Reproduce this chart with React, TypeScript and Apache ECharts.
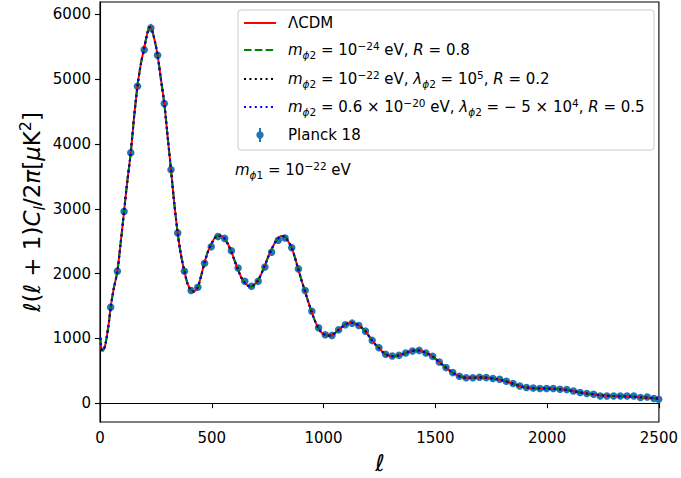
import React, { useEffect, useRef } from "react";
import * as echarts from "echarts";

// Theory curve multipoles and D_l values (muK^2)
const theoryL = [
  2, 4, 7, 10, 14, 20, 26, 32, 40, 47.7, 60, 77.6, 92, 107.6, 122, 137.6, 152, 167.6, 182, 197.6,
  212, 222, 232, 245, 257.6, 272, 287.6, 302, 317.6, 332, 347.6, 362, 377.6, 392, 407.6, 420, 437.6,
  452, 467.6, 482, 497.6, 512, 527.6, 540, 557.6, 572, 587.6, 602, 617.6, 632, 647.6, 662, 677.6,
  692, 707.6, 722, 737.6, 752, 767.6, 782, 797.6, 812, 827.6, 842, 857.6, 872, 887.6, 902, 917.6,
  932, 947.6, 962, 977.6, 992, 1007.6, 1022, 1037.6, 1052, 1067.6, 1082, 1097.6, 1112, 1127.6, 1142,
  1157.6, 1172, 1187.6, 1202, 1217.6, 1232, 1247.6, 1262, 1277.6, 1292, 1307.6, 1322, 1337.6, 1352,
  1367.6, 1382, 1397.6, 1412, 1427.6, 1442, 1457.6, 1472, 1487.6, 1502, 1517.6, 1532, 1547.6, 1562,
  1577.6, 1592, 1607.6, 1622, 1637.6, 1652, 1667.6, 1682, 1697.6, 1712, 1727.6, 1742, 1757.6, 1772,
  1787.6, 1802, 1817.6, 1832, 1847.6, 1862, 1877.6, 1892, 1907.6, 1922, 1937.6, 1967.6, 1997.6,
  2027.6, 2057.6, 2087.6, 2117.6, 2147.6, 2177.6, 2207.6, 2237.6, 2267.6, 2297.6, 2327.6, 2357.6,
  2387.6, 2417.6, 2447.6, 2477.6, 2500,
];
const lcdmD = [
  1010, 900, 830, 812, 815, 855, 940, 1060, 1250, 1477, 1740, 2035, 2460, 2958, 3420, 3865, 4400, 4891, 5220, 5480,
  5710, 5800, 5760, 5590, 5368, 5010, 4625, 4130, 3600, 3090, 2625, 2290, 2035, 1840, 1740, 1725, 1795,
  1960, 2170, 2330, 2450, 2545, 2585, 2585, 2540, 2455, 2340, 2200, 2060, 1940, 1860, 1810, 1800,
  1835, 1900, 2000, 2125, 2255, 2375, 2475, 2545, 2580, 2565, 2495, 2400, 2245, 2060, 1890, 1720,
  1560, 1400, 1265, 1155, 1085, 1052, 1042, 1048, 1085, 1132, 1175, 1212, 1235, 1242, 1228,
  1200, 1160, 1110, 1040, 965, 905, 853, 798, 755, 733, 726, 728, 738, 755,
  775, 793, 807, 815, 814, 800, 775, 752, 720, 680, 635, 592, 548, 508,
  470, 440, 415, 400, 393, 392, 393, 396, 398, 398, 394, 388, 380, 372,
  362, 350, 335, 318, 300, 282, 266, 252, 242, 236, 232, 228, 226,
  222, 214, 202, 186, 166, 150, 136, 122, 114, 110, 107, 104,
  100, 92, 85, 76, 70,
];
// The three two-field models overlap the LCDM curve to within a line width
const model24D = lcdmD;
const model22D = lcdmD;
const model20D = lcdmD;

// Planck 2018 binned TT points
const planckL = [
  47.7, 77.6, 107.6, 137.6, 167.6, 197.6, 227.6, 257.6, 287.6, 317.6, 347.6, 377.6, 407.6, 437.6,
  467.6, 497.6, 527.6, 557.6, 587.6, 617.6, 647.6, 677.6, 707.6, 737.6, 767.6, 797.6, 827.6, 857.6,
  887.6, 917.6, 947.6, 977.6, 1007.6, 1037.6, 1067.6, 1097.6, 1127.6, 1157.6, 1187.6, 1217.6, 1247.6,
  1277.6, 1307.6, 1337.6, 1367.6, 1397.6, 1427.6, 1457.6, 1487.6, 1517.6, 1547.6, 1577.6, 1607.6,
  1637.6, 1667.6, 1697.6, 1727.6, 1757.6, 1787.6, 1817.6, 1847.6, 1877.6, 1907.6, 1937.6, 1967.6,
  1997.6, 2027.6, 2057.6, 2087.6, 2117.6, 2147.6, 2177.6, 2207.6, 2237.6, 2267.6, 2297.6, 2327.6,
  2357.6, 2387.6, 2417.6, 2447.6, 2477.6, 2499,
];
const planckD = [
  1480, 2035, 2958, 3865, 4891, 5455, 5788, 5368, 4625, 3600, 2625, 2035, 1738, 1789,
  2158, 2415, 2573, 2543, 2353, 2087, 1881, 1804, 1881, 2100, 2330, 2515, 2550, 2400,
  2072, 1738, 1420, 1164, 1057, 1046, 1133, 1210, 1235, 1200, 1112, 969, 857,
  754, 728, 738, 774, 805, 815, 774, 723, 636, 549, 472, 415,
  392, 393, 400, 395, 380, 369, 338, 303, 266, 241, 235, 226,
  226, 226, 215, 210, 189, 164, 149, 138, 112, 112, 112, 112,
  112, 112, 88, 97, 72, 62,
];
const planckErr = [
  60, 55, 50, 55, 60, 65, 65, 60, 55, 45, 38, 32, 28, 27,
  28, 28, 28, 27, 25, 22, 20, 19, 19, 19, 20, 20, 20, 19,
  17, 15, 13, 12, 11, 11, 11, 11, 11, 11, 10, 10, 10,
  10, 10, 10, 10, 10, 10, 10, 9, 9, 9, 9, 9,
  9, 9, 9, 9, 9, 9, 9, 9, 9, 9, 10, 10,
  10, 10, 11, 11, 11, 12, 12, 12, 13, 13, 13, 14,
  14, 15, 15, 16, 17, 18,
];

const yTicks = [0, 1000, 2000, 3000, 4000, 5000, 6000];

const FONT = "DejaVu Sans";

const legendRich = {
  n: { fontFamily: FONT, fontSize: 15, lineHeight: 20, color: "#000" },
  i: { fontFamily: FONT, fontSize: 15, lineHeight: 20, fontStyle: "italic", color: "#000" },
  sbi: { fontFamily: FONT, fontSize: 10.5, lineHeight: 10, fontStyle: "italic", verticalAlign: "bottom", color: "#000" },
  sb: { fontFamily: FONT, fontSize: 10.5, lineHeight: 10, verticalAlign: "bottom", color: "#000" },
  sp: { fontFamily: FONT, fontSize: 10.5, lineHeight: 11, verticalAlign: "top", color: "#000" },
};

export default function App() {
  const ref = useRef<HTMLDivElement>(null);
  useEffect(() => {
    if (!ref.current) return;
    const chart = echarts.init(ref.current, undefined, { renderer: "svg" });
    const mk = (d: number[]) => theoryL.map((l, i) => [l, d[i]]);
    const line = (name: string, d: number[], color: string, type: any) => ({
      name,
      type: "line",
      data: mk(d),
      showSymbol: false,
      smooth: 0.3,
      lineStyle: { color, width: 2, type },
      silent: true,
      clip: true,
    });
    const legendX1 = 244;
    const legendX2 = 276;
    const textX = 288;
    const rows = [23, 50, 79, 107, 135];
    chart.setOption({
      animation: false,
      grid: { left: 100, right: 20, top: 2, bottom: 56, show: true, borderColor: "#000", borderWidth: 1.1, backgroundColor: "transparent" },
      xAxis: {
        type: "value",
        min: 0,
        max: 2500,
        interval: 500,
        axisLine: { lineStyle: { color: "#000", width: 1.1 } },
        axisTick: { show: true, length: 5, lineStyle: { color: "#000", width: 1.1 } },
        axisLabel: { color: "#000", fontFamily: FONT, fontSize: 15, margin: 8, formatter: (v: number) => String(v) },
        splitLine: { show: false },
      },
      yAxis: {
        type: "value",
        min: -290,
        max: 6190,
        axisLine: { show: true, lineStyle: { color: "#000", width: 1.1 } },
        axisTick: { show: true, length: 5, customValues: yTicks, lineStyle: { color: "#000", width: 1.1 } },
        axisLabel: { color: "#000", fontFamily: FONT, fontSize: 15, margin: 9, customValues: yTicks, formatter: (v: number) => String(v) },
        splitLine: { show: false },
      },
      series: [
        line("LCDM", lcdmD, "#ff0000", "solid"),
        line("m24", model24D, "#008000", [7.5, 3.3]),
        line("m22", model22D, "#000000", [2, 3.4]),
        line("m20", model20D, "#0000ff", [2, 3.4]),
        {
          type: "custom",
          name: "err",
          data: planckL.map((l, i) => [l, planckD[i], planckErr[i]]),
          renderItem: (params: any, api: any) => {
            const x = api.value(0);
            const y = api.value(1);
            const e = api.value(2);
            const p1 = api.coord([x, y - e]);
            const p2 = api.coord([x, y + e]);
            return {
              type: "line",
              shape: { x1: p1[0], y1: p1[1], x2: p2[0], y2: p2[1] },
              style: { stroke: "#1f77b4", lineWidth: 2 },
            };
          },
          silent: true,
          clip: true,
        },
        {
          type: "scatter",
          name: "Planck 18",
          data: planckL.map((l, i) => [l, planckD[i]]),
          symbol: "circle",
          symbolSize: 7.5,
          itemStyle: { color: "#1f77b4", opacity: 1 },
          silent: true,
        },
      ],
      graphic: [
        {
          type: "rect",
          shape: { x: 238, y: 10, width: 416, height: 140, r: 3 },
          style: { fill: "rgba(255,255,255,0.8)", stroke: "#cccccc", lineWidth: 1 },
          z: 100,
        },
        { type: "line", shape: { x1: legendX1, y1: rows[0], x2: legendX2, y2: rows[0] }, style: { stroke: "#ff0000", lineWidth: 2 }, z: 101 },
        { type: "line", shape: { x1: legendX1, y1: rows[1], x2: legendX2, y2: rows[1] }, style: { stroke: "#008000", lineWidth: 2, lineDash: [7.5, 3.3] }, z: 101 },
        { type: "line", shape: { x1: legendX1, y1: rows[2], x2: legendX2, y2: rows[2] }, style: { stroke: "#000000", lineWidth: 2, lineDash: [2, 3.4] }, z: 101 },
        { type: "line", shape: { x1: legendX1, y1: rows[3], x2: legendX2, y2: rows[3] }, style: { stroke: "#0000ff", lineWidth: 2, lineDash: [2, 3.4] }, z: 101 },
        { type: "line", shape: { x1: 260, y1: rows[4] - 7, x2: 260, y2: rows[4] + 7 }, style: { stroke: "#1f77b4", lineWidth: 2 }, z: 101 },
        { type: "circle", shape: { cx: 260, cy: rows[4], r: 3.7 }, style: { fill: "#1f77b4" }, z: 101 },
        {
          type: "text", x: textX, y: rows[0], z: 101,
          style: { text: "{n|ΛCDM}", rich: legendRich, verticalAlign: "middle", align: "left" },
        },
        {
          type: "text", x: textX, y: rows[1], z: 101,
          style: { text: "{i|m}{sbi|ϕ}{sb|2}{n| = 10}{sp|−24}{n| eV, }{i|R}{n| = 0.8}", rich: legendRich, verticalAlign: "middle", align: "left" },
        },
        {
          type: "text", x: textX, y: rows[2], z: 101,
          style: { text: "{i|m}{sbi|ϕ}{sb|2}{n| = 10}{sp|−22}{n| eV, }{i|λ}{sbi|ϕ}{sb|2}{n| = 10}{sp|5}{n|, }{i|R}{n| = 0.2}", rich: legendRich, verticalAlign: "middle", align: "left" },
        },
        {
          type: "text", x: textX, y: rows[3], z: 101,
          style: { text: "{i|m}{sbi|ϕ}{sb|2}{n| = 0.6 × 10}{sp|−20}{n| eV, }{i|λ}{sbi|ϕ}{sb|2}{n| = − 5 × 10}{sp|4}{n|, }{i|R}{n| = 0.5}", rich: legendRich, verticalAlign: "middle", align: "left" },
        },
        {
          type: "text", x: textX, y: rows[4], z: 101,
          style: { text: "{n|Planck 18}", rich: legendRich, verticalAlign: "middle", align: "left" },
        },
        {
          type: "text", x: 235, y: 170, z: 101,
          style: { text: "{i|m}{sbi|ϕ}{sb|1}{n| = 10}{sp|−22}{n| eV}", rich: legendRich, verticalAlign: "middle", align: "left" },
        },
        {
          type: "text", x: 380, y: 463, z: 101,
          style: { text: "ℓ", fontFamily: FONT, fontStyle: "italic", fontSize: 23, fill: "#000", align: "center", verticalAlign: "middle" },
        },
        {
          type: "text", x: 32, y: 212, rotation: Math.PI / 2, z: 101,
          style: {
            text: "{i|ℓ}{n|(}{i|ℓ}{n| + 1)}{i|C}{sbi|l}{n|/2}{i|π}{n|[}{i|μ}{n|K}{sp|2}{n|]}",
            align: "center",
            verticalAlign: "middle",
            rich: {
              n: { fontFamily: FONT, fontSize: 23, lineHeight: 30, color: "#000" },
              i: { fontFamily: FONT, fontSize: 23, lineHeight: 30, fontStyle: "italic", color: "#000" },
              sbi: { fontFamily: FONT, fontSize: 16, lineHeight: 16, fontStyle: "italic", verticalAlign: "bottom", color: "#000" },
              sp: { fontFamily: FONT, fontSize: 16, lineHeight: 17, verticalAlign: "top", color: "#000" },
            },
          },
        },
      ],
    });
    return () => chart.dispose();
  }, []);
  return <div ref={ref} style={{ position: "fixed", left: 0, top: 0, width: 681, height: 478, background: "#fff" }} />;
}
